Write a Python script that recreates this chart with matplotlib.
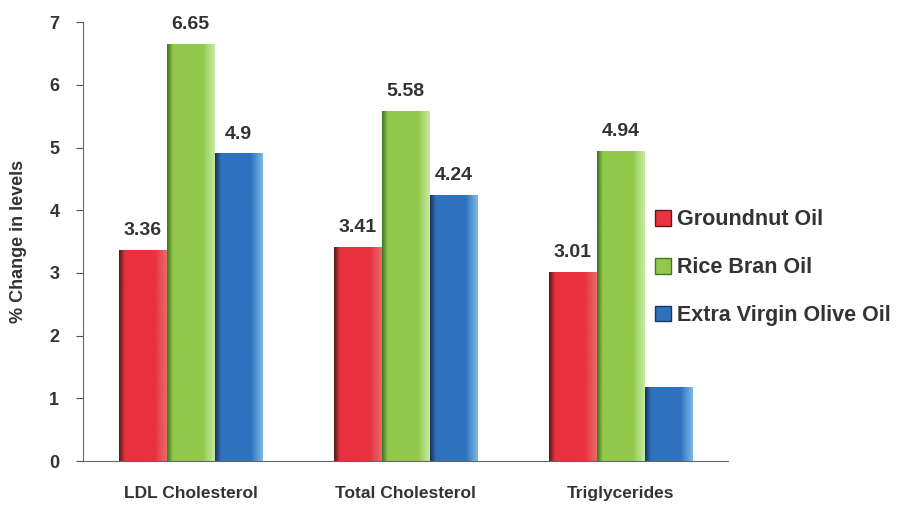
import numpy as np
import matplotlib.pyplot as plt
from matplotlib.patches import Patch
from matplotlib.colors import to_rgb

plt.rcParams['font.family'] = ['Liberation Sans', 'DejaVu Sans']

# Données
categories = ['LDL Cholesterol', 'Total Cholesterol', 'Triglycerides']
series = ['Groundnut Oil', 'Rice Bran Oil', 'Extra Virgin Olive Oil']
groundnut = [3.36, 3.41, 3.01]
rice_bran = [6.65, 5.58, 4.94]
olive = [4.9, 4.24, 1.18]
labels_groundnut = ['3.36', '3.41', '3.01']
labels_rice_bran = ['6.65', '5.58', '4.94']
labels_olive = ['4.9', '4.24', '']

values = [groundnut, rice_bran, olive]
labels = [labels_groundnut, labels_rice_bran, labels_olive]

# Couleurs : bord sombre, teinte principale, reflet clair
palette = [
    ('#5a1a1e', '#e8323e', '#e86a6a'),
    ('#3f7a22', '#92c94c', '#c6eaa0'),
    ('#1b355e', '#2e72bd', '#7cb9e6'),
]

text_color = '#333333'

fig = plt.figure(figsize=(8.98, 5.05), dpi=100)
ax = fig.add_axes([0.0924, 0.0871, 0.7186, 0.8689])

width = 0.223
x = np.arange(len(categories))


def gradient(dark, base, light, n=60):
    d, b, l = np.array(to_rgb(dark)), np.array(to_rgb(base)), np.array(to_rgb(light))
    t = np.linspace(0, 1, n)
    rows = []
    for v in t:
        if v < 0.12:
            c = d + (b - d) * (v / 0.12)
        elif v < 0.75:
            c = b
        else:
            c = b + (l - b) * ((v - 0.75) / 0.25)
        rows.append(c)
    return np.array(rows)[None, :, :]


for i, vals in enumerate(values):
    dark, base, light = palette[i]
    img = gradient(dark, base, light)
    for j, v in enumerate(vals):
        x0 = x[j] + (i - 1) * width - width / 2
        ax.imshow(img, extent=(x0, x0 + width, 0, v), aspect='auto',
                  interpolation='bilinear', zorder=2)
        if labels[i][j]:
            ax.text(x0 + width / 2, v + 0.18, labels[i][j], ha='center',
                    va='bottom', fontsize=14, fontweight='bold',
                    color=text_color)

ax.set_xlim(-0.5, 2.5)
ax.set_ylim(0, 7)
ax.set_xticks(x)
ax.set_xticklabels(categories, fontsize=12.5, fontweight='bold', color=text_color)
ax.tick_params(axis='x', length=0, pad=18)
ax.set_yticks(range(0, 8))
ax.tick_params(axis='y', labelsize=13, colors='#555555', length=5, pad=12)
for lab in ax.get_yticklabels():
    lab.set_fontweight('bold')
    lab.set_color(text_color)
ax.set_ylabel('% Change in levels', fontsize=13, fontweight='bold',
              color=text_color, labelpad=16)

for s in ['top', 'right']:
    ax.spines[s].set_visible(False)
ax.spines['left'].set_color('#666666')
ax.spines['bottom'].set_color('#666666')

handles = [Patch(facecolor=palette[i][1], edgecolor=palette[i][0], label=series[i])
           for i in range(3)]
leg = fig.legend(handles=handles, loc='center left', bbox_to_anchor=(0.708, 0.47),
                 frameon=False, handlelength=0.75, handleheight=0.75,
                 handletextpad=0.25, labelspacing=1.25,
                 prop={'size': 15.5, 'weight': 'bold'})
for t in leg.get_texts():
    t.set_color(text_color)

fig.savefig('out.png', dpi=100)
